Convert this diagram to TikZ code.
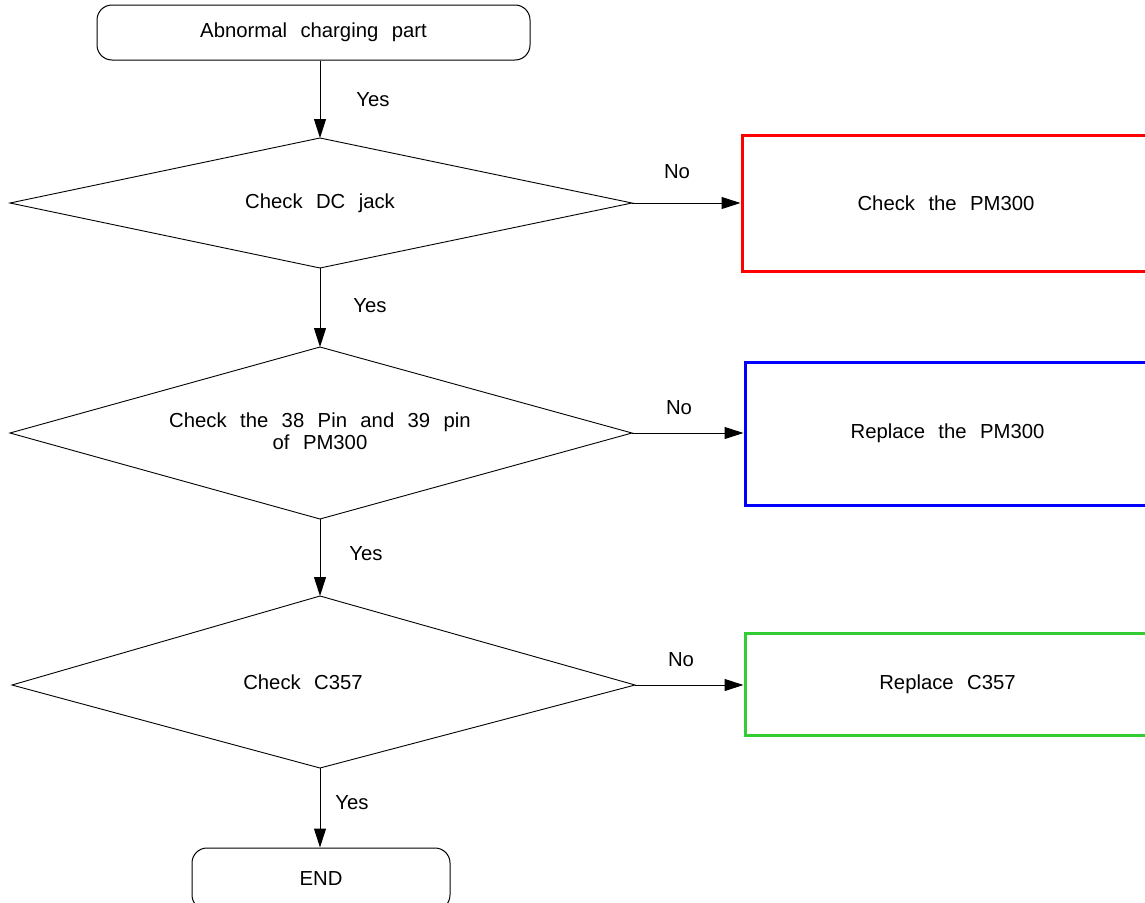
\documentclass[tikz,border=0pt]{standalone}
\usepackage{fontspec}
\setmainfont{Liberation Sans}
\usetikzlibrary{arrows.meta}
\newcommand{\flowfont}{\fontsize{20.3}{22}\selectfont\spaceskip 0.66em\relax}
\begin{document}
\begin{tikzpicture}[x=1pt,y=-1pt,
  txt/.style={font=\flowfont, align=center, inner sep=0pt},
  term/.style={txt, draw, line width=1pt, rounded corners=15pt},
  res/.style={txt, draw, line width=3pt},
  dia/.style={draw, line width=0.9pt, line join=miter},
  flow/.style={draw, line width=1pt, -{Triangle[length=19pt,width=12pt]}}]
\useasboundingbox (0,0) rectangle (1145,902);
\clip (0,0) rectangle (1145,902);

% start
\node[term, minimum width=433pt, minimum height=55pt] (start) at (313.5,32.5) {Abnormal charging part};

% diamond 1
\coordinate (d1t) at (320,138);
\coordinate (d1r) at (632,203);
\coordinate (d1b) at (320,268);
\coordinate (d1l) at (10,203);
\draw[dia] (d1t) -- (d1r) -- (d1b) -- (d1l) -- cycle;
\node[txt] (q1) at (320,203) {Check DC jack};

% diamond 2
\coordinate (d2t) at (320,347);
\coordinate (d2r) at (632,433);
\coordinate (d2b) at (320,519);
\coordinate (d2l) at (10,433);
\draw[dia] (d2t) -- (d2r) -- (d2b) -- (d2l) -- cycle;
\node[txt] (q2) at (320,431) {Check the 38 Pin and 39 pin\\of PM300};

% diamond 3
\coordinate (d3t) at (320,596);
\coordinate (d3r) at (635,685);
\coordinate (d3b) at (320,768);
\coordinate (d3l) at (12,685);
\draw[dia] (d3t) -- (d3r) -- (d3b) -- (d3l) -- cycle;
\node[txt] (q3) at (303,682) {Check C357};

% result boxes
\definecolor{rred}{RGB}{255,0,0}
\definecolor{rblue}{RGB}{0,0,255}
\definecolor{rgreen}{RGB}{50,205,50}
\node[res, draw=rred, minimum width=408pt, minimum height=136pt] (r1) at (946,203) {Check the PM300};
\node[res, draw=rblue, minimum width=405pt, minimum height=143pt] (r2) at (947.5,433.5) {Replace the PM300};
\node[res, draw=rgreen, minimum width=405pt, minimum height=102pt] (r3) at (947.5,684) {Replace C357};

% end
\node[term, minimum width=258pt, minimum height=62pt] (end) at (321,879) {END};

% connectors
\draw[flow] (start.south -| d1t) -- (d1t);
\draw[flow] (d1b) -- (d2t);
\draw[flow] (d2b) -- (d3t);
\draw[flow] (d3b) -- (d3b |- end.north);
\draw[flow] (d1r) -- (r1.west);
\draw[flow] (d2r) -- (d2r -| r2.west);
\draw[flow] (d3r) -- (d3r -| r3.west);

% labels
\node[txt] (y1) at (373,100) {Yes};
\node[txt] (y2) at (370,306) {Yes};
\node[txt] (y3) at (366,554) {Yes};
\node[txt] (y4) at (352,803) {Yes};
\node[txt] (n1) at (677,172) {No};
\node[txt] (n2) at (679,408) {No};
\node[txt] (n3) at (681,660) {No};
\end{tikzpicture}
\end{document}
